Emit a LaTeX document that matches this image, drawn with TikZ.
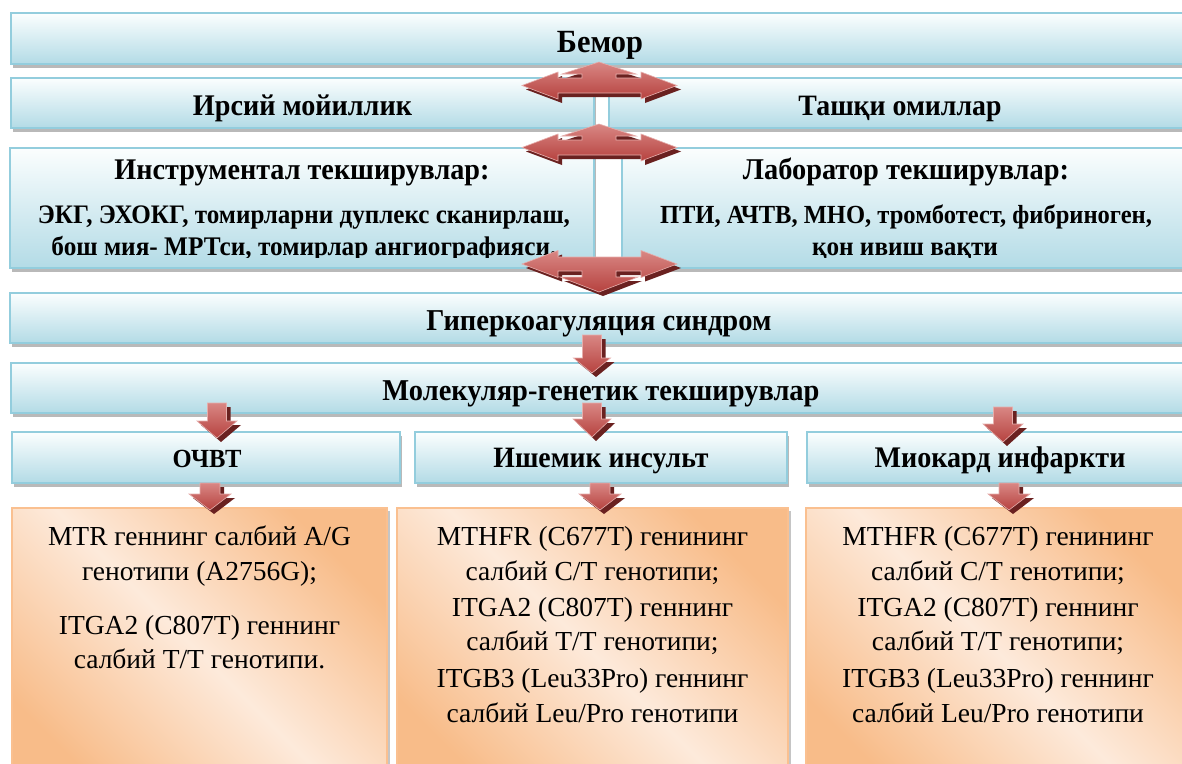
\documentclass[tikz,border=0pt]{standalone}
\usepackage{fontspec}
\usepackage{graphicx}
\setmainfont{Liberation Serif}
\newfontfamily\hdrfont{Liberation Serif}[FakeStretch=0.94]
\usetikzlibrary{shadows}
\definecolor{bborder}{HTML}{93CDDD}
\definecolor{bbot}{HTML}{B3DBE6}
\definecolor{btop}{HTML}{FBFEFE}
\definecolor{obord}{HTML}{FAC090}
\definecolor{odark}{HTML}{F8BC89}
\definecolor{olight}{HTML}{FDEADB}
\definecolor{arrtop}{HTML}{D98784}
\definecolor{arrbot}{HTML}{B6423F}
\definecolor{arredge}{HTML}{E6AEAC}
\definecolor{arrshad}{HTML}{6A2120}
\pgfdeclarehorizontalshading{orshade}{100bp}{color(0bp)=(odark); color(25bp)=(odark); color(50bp)=(olight); color(75bp)=(odark); color(100bp)=(odark)}
\newcommand\fitw[2]{\resizebox{#1pt}{!}{#2}}
\tikzset{
  bluebox/.style={draw=bborder, line width=2pt, top color=btop, bottom color=bbot,
    drop shadow={shadow xshift=2pt, shadow yshift=-4pt, fill=black!50, opacity=.55},
    inner sep=0pt, outer sep=0pt, anchor=north west},
  orbox/.style={draw=obord, line width=2pt, shading=orshade, shading angle=45,
    drop shadow={shadow xshift=3pt, shadow yshift=-3pt, fill=black!45, opacity=.5},
    inner sep=0pt, outer sep=0pt, anchor=north west},
  hdr/.style={inner sep=0pt, anchor=base, font=\hdrfont\bfseries},
  bodytxt/.style={inner sep=0pt, anchor=base, font=\fontsize{27.5}{33}\selectfont},
  arrshadow/.style={fill=arrshad},
  arrmain/.style={top color=arrtop, bottom color=arrbot, draw=arredge, line width=0.6pt},
}
% single down block arrow: cx, stem top, head base, tip, stem half width, head half width
\newcommand\blkdownpath[6]{(#1-#5,#2) -- (#1+#5,#2) -- (#1+#5,#3) -- (#1+#6,#3) -- (#1,#4) -- (#1-#6,#3) -- (#1-#5,#3) -- cycle}
\newcommand\blkdown[6]{%
  \fill[arrshadow, shift={(4,4)}] \blkdownpath{#1}{#2}{#3}{#4}{#5}{#6};
  \path[arrmain] \blkdownpath{#1}{#2}{#3}{#4}{#5}{#6};}
\newcommand\lrupath{(0,-23.5) -- (37,-11.5) -- (17,-11.5) -- (17,-7.5) -- (42,-7.5) -- (42,-13.5) -- (78,0) -- (42,13.5) -- (42,7.5) -- (-41,7.5) -- (-41,13.5) -- (-77,0) -- (-41,-13.5) -- (-41,-7.5) -- (-17,-7.5) -- (-17,-11.5) -- (-37,-11.5) -- cycle}
\newcommand\lrdpath{(0,28) -- (39,13) -- (17,13) -- (17,7) -- (42,7) -- (42,13.5) -- (78,0) -- (42,-13.5) -- (42,-7) -- (-41,-7) -- (-41,-13.5) -- (-77,0) -- (-41,13.5) -- (-41,7) -- (-17,7) -- (-17,13) -- (-39,13) -- cycle}
\begin{document}
\begin{tikzpicture}[x=1pt,y=-1pt]
\useasboundingbox (0,0) rectangle (1182,763);
\clip (0,0) rectangle (1182,763);
\fill[white] (0,0) rectangle (1182,763);

% blue boxes
\node[bluebox, minimum width=1181pt, minimum height=51pt] (bemor) at (11,13) {};
\node[bluebox, minimum width=583pt, minimum height=50pt] (irsiy) at (11,78) {};
\node[bluebox, minimum width=583pt, minimum height=50pt] (tashqi) at (609,78) {};
\node[bluebox, minimum width=584pt, minimum height=120pt] (instr) at (10,148) {};
\node[bluebox, minimum width=570pt, minimum height=120pt] (lab) at (622,148) {};
\node[bluebox, minimum width=1182pt, minimum height=50pt] (hyper) at (10,293) {};
\node[bluebox, minimum width=1181pt, minimum height=50pt] (mol) at (11,363) {};
\node[bluebox, minimum width=388pt, minimum height=51pt] (ochvt) at (12,432) {};
\node[bluebox, minimum width=372pt, minimum height=51pt] (ishemik) at (415,432) {};
\node[bluebox, minimum width=385pt, minimum height=51pt] (miokard) at (807,432) {};

% orange boxes
\node[orbox, minimum width=375pt, minimum height=290pt] (o1) at (12,508) {};
\node[orbox, minimum width=391pt, minimum height=290pt] (o2) at (397,508) {};
\node[orbox, minimum width=386pt, minimum height=290pt] (o3) at (806,508) {};

% header texts
\node[hdr] (tbemor) at (600,52) {\fitw{86}{Бемор}};
\node[hdr] (tirsiy) at (302.5,115) {\fitw{219}{Ирсий мойиллик}};
\node[hdr] (ttashqi) at (900,115) {\fitw{203}{Ташқи омиллар}};
\node[hdr] (tinstr1) at (302,179) {\fitw{375}{Инструментал текширувлар:}};
\node[hdr] (tinstr2) at (304,223) {\fitw{532}{ЭКГ, ЭХОКГ, томирларни дуплекс сканирлаш,}};
\node[hdr] (tlab1) at (906,179) {\fitw{326}{Лаборатор текширувлар:}};
\node[hdr] (tlab2) at (906,223) {\fitw{492}{ПТИ, АЧТВ, МНО, тромботест, фибриноген,}};
\begin{scope}
  \clip (0,140) rectangle (1182,257.5);
  \node[hdr] (tinstr3) at (304,255) {\fitw{505}{бош мия- МРТси, томирлар ангиографияси.}};
  \node[hdr] (tlab3) at (905,255) {\fitw{186}{қон ивиш вақти}};
\end{scope}
\node[hdr] (thyper) at (599,330) {\fitw{345}{Гиперкоагуляция синдром}};
\node[hdr] (tmol) at (601,400) {\fitw{437}{Молекуляр-генетик текширувлар}};
\node[hdr] (tochvt) at (207,467) {\fitw{69}{ОЧВТ}};
\node[hdr] (tishemik) at (601,467) {\fitw{215}{Ишемик инсульт}};
\node[hdr] (tmiokard) at (1000,467) {\fitw{251}{Миокард инфаркти}};

% orange texts
\node[bodytxt] (a1) at (199.5,545) {MTR геннинг салбий A/G};
\node[bodytxt] (a2) at (199.5,580) {генотипи (A2756G);};
\node[bodytxt] (a3) at (199.5,634) {ITGA2 (C807T) геннинг};
\node[bodytxt] (a4) at (199.5,668) {салбий T/T генотипи.};

\node[bodytxt] (b1) at (592.5,545) {MTHFR (C677T) генининг};
\node[bodytxt] (b2) at (592.5,580) {салбий C/T генотипи;};
\node[bodytxt] (b3) at (592.5,616) {ITGA2 (C807T) геннинг};
\node[bodytxt] (b4) at (592.5,650) {салбий T/T генотипи;};
\node[bodytxt] (b5) at (592.5,687) {ITGB3 (Leu33Pro) геннинг};
\node[bodytxt] (b6) at (592.5,722) {салбий Leu/Pro генотипи};

\node[bodytxt] (c1) at (998,545) {MTHFR (C677T) генининг};
\node[bodytxt] (c2) at (998,580) {салбий C/T генотипи;};
\node[bodytxt] (c3) at (998,616) {ITGA2 (C807T) геннинг};
\node[bodytxt] (c4) at (998,650) {салбий T/T генотипи;};
\node[bodytxt] (c5) at (998,687) {ITGB3 (Leu33Pro) геннинг};
\node[bodytxt] (c6) at (998,722) {салбий Leu/Pro генотипи};

% three-way block arrows
\fill[arrshadow, shift={(603,89.5)}] \lrupath;
\path[arrmain, shift={(599,85.5)}] \lrupath;
\fill[arrshadow, shift={(603,151.5)}] \lrupath;
\path[arrmain, shift={(599,147.5)}] \lrupath;
\fill[arrshadow, shift={(603,268)}] \lrdpath;
\path[arrmain, shift={(599,264)}] \lrdpath;

% down block arrows
\blkdown{592}{335}{358}{373}{9.5}{18.5}
\blkdown{592}{403}{419}{437}{9.5}{19}
\blkdown{217}{403}{421}{438}{9.5}{20}
\blkdown{1003}{407}{424}{442}{9.5}{20}
\blkdown{210}{483}{494}{510}{10}{21}
\blkdown{600}{483}{494}{510}{10}{21}
\blkdown{1009}{483}{494}{510}{10}{21}
\end{tikzpicture}
\end{document}
